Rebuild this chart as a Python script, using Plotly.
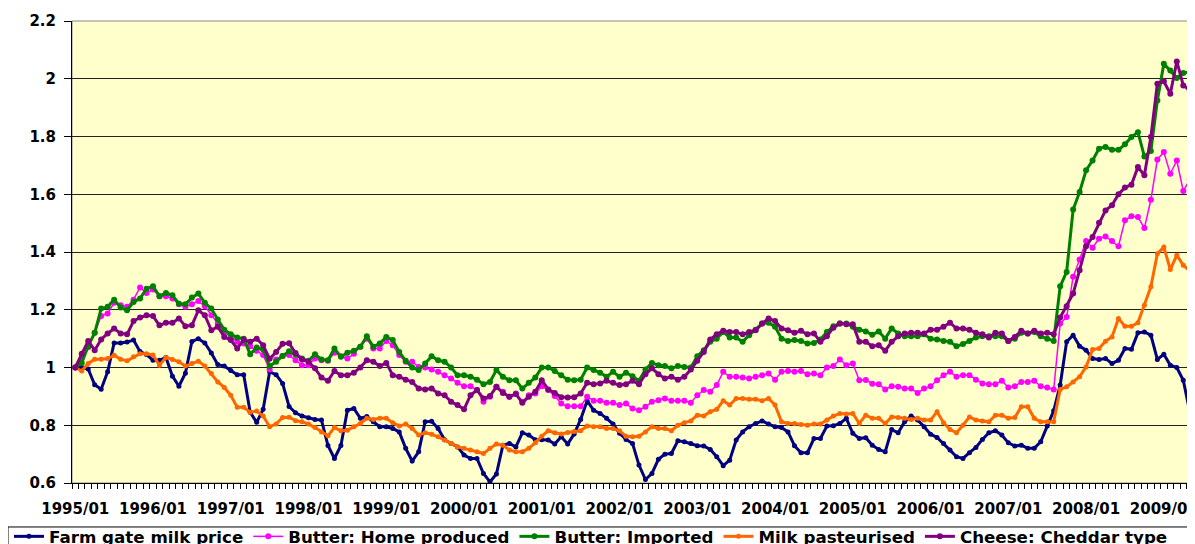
import plotly.graph_objects as go

months = [f"{y}/{m:02d}" for y in range(1995, 2010) for m in range(1, 13)][:173]
tick_labels = ["1995/01", "1996/01", "1997/01", "1998/01", "1999/01", "2000/01", "2001/01",
               "2002/01", "2003/01", "2004/01", "2005/01", "2006/01", "2007/01", "2008/01", "2009/01"]

farm_gate = [
    1.00, 1.00, 0.995, 0.94, 0.925, 0.985, 1.085, 1.085, 1.088, 1.095, 1.055, 1.045,
    1.025, 1.025, 1.035, 0.97, 0.935, 0.98, 1.09, 1.10, 1.085, 1.05, 1.01, 1.005,
    0.99, 0.975, 0.975, 0.845, 0.81, 0.855, 0.985, 0.975, 0.945, 0.865, 0.843, 0.832,
    0.826, 0.82, 0.818, 0.73, 0.685, 0.73, 0.852, 0.858, 0.824, 0.83, 0.812, 0.795,
    0.795, 0.789, 0.777, 0.72, 0.676, 0.708, 0.812, 0.814, 0.789, 0.75, 0.737, 0.725,
    0.697, 0.685, 0.685, 0.633, 0.604, 0.631, 0.731, 0.737, 0.725, 0.774, 0.766, 0.75,
    0.75, 0.749, 0.735, 0.76, 0.735, 0.77, 0.82, 0.885, 0.852, 0.841, 0.824, 0.804,
    0.772, 0.751, 0.737, 0.662, 0.612, 0.633, 0.682, 0.70, 0.702, 0.746, 0.743, 0.737,
    0.729, 0.728, 0.716, 0.691, 0.66, 0.679, 0.749, 0.777, 0.795, 0.806, 0.815, 0.804,
    0.795, 0.792, 0.777, 0.729, 0.705, 0.705, 0.754, 0.754, 0.797, 0.798, 0.806, 0.824,
    0.772, 0.754, 0.757, 0.731, 0.716, 0.708, 0.785, 0.774, 0.812, 0.832, 0.818, 0.795,
    0.769, 0.758, 0.737, 0.714, 0.691, 0.685, 0.705, 0.723, 0.751, 0.774, 0.781, 0.766,
    0.739, 0.728, 0.731, 0.72, 0.72, 0.743, 0.797, 0.85, 0.939, 1.089, 1.112, 1.074,
    1.06, 1.031, 1.028, 1.031, 1.014, 1.025, 1.066, 1.063, 1.12, 1.123, 1.112, 1.028,
    1.046, 1.008, 1.0, 0.956, 0.847]

butter_home = [
    1.0, 1.031, 1.07, 1.12, 1.178, 1.187, 1.224, 1.216, 1.21, 1.235, 1.277, 1.258,
    1.27, 1.247, 1.247, 1.239, 1.219, 1.21, 1.219, 1.23, 1.212, 1.181, 1.152, 1.123,
    1.106, 1.089, 1.083, 1.074, 1.058, 1.043, 0.993, 1.028, 1.04, 1.043, 1.025, 1.008,
    1.008, 1.031, 1.025, 1.023, 1.051, 1.039, 1.031, 1.048, 1.072, 1.10, 1.066, 1.066,
    1.092, 1.077, 1.043, 1.02, 1.02, 1.002, 1.0, 0.993, 0.985, 0.973, 0.962, 0.947,
    0.935, 0.935, 0.922, 0.881, 0.899, 0.933, 0.916, 0.899, 0.91, 0.881, 0.904, 0.91,
    0.935, 0.922, 0.901, 0.875, 0.866, 0.866, 0.866, 0.899, 0.885, 0.885, 0.878, 0.878,
    0.87, 0.875, 0.858, 0.852, 0.864, 0.881, 0.887, 0.893, 0.885, 0.885, 0.885, 0.878,
    0.904, 0.922, 0.916, 0.939, 0.985, 0.968, 0.968, 0.965, 0.962, 0.968, 0.973, 0.979,
    0.958, 0.985, 0.988, 0.985, 0.988, 0.977, 0.979, 0.973, 1.0, 1.005, 1.028, 1.008,
    1.014, 0.956, 0.957, 0.944, 0.942, 0.924, 0.935, 0.933, 0.927, 0.927, 0.912, 0.927,
    0.935, 0.956, 0.973, 0.985, 0.968, 0.973, 0.973, 0.958, 0.945, 0.942, 0.942, 0.954,
    0.931, 0.935, 0.95, 0.95, 0.954, 0.935, 0.931, 0.924, 1.152, 1.175, 1.314, 1.374,
    1.438, 1.415, 1.446, 1.454, 1.438, 1.42, 1.51, 1.524, 1.521, 1.483, 1.581, 1.72,
    1.746, 1.671, 1.717, 1.611, 1.651]

butter_imported = [
    1.0, 1.016, 1.074, 1.12, 1.204, 1.21, 1.235, 1.208, 1.198, 1.227, 1.239, 1.273,
    1.281, 1.247, 1.258, 1.25, 1.221, 1.219, 1.242, 1.256, 1.224, 1.204, 1.166, 1.131,
    1.115, 1.104, 1.10, 1.046, 1.069, 1.062, 1.005, 1.02, 1.04, 1.056, 1.044, 1.031,
    1.023, 1.046, 1.028, 1.025, 1.066, 1.037, 1.051, 1.058, 1.072, 1.108, 1.072, 1.083,
    1.106, 1.095, 1.054, 1.023, 1.0, 0.991, 1.014, 1.039, 1.025, 1.02, 1.0, 0.973,
    0.973, 0.968, 0.958, 0.942, 0.95, 0.991, 0.968, 0.956, 0.956, 0.927, 0.947, 0.965,
    1.0, 1.0, 0.988, 0.973, 0.958, 0.956, 0.958, 1.0, 0.991, 0.982, 0.968, 0.985,
    0.968, 0.982, 0.97, 0.954, 0.993, 1.016, 1.008, 1.005, 0.997, 1.005, 1.002, 1.0,
    1.039, 1.06, 1.089, 1.10, 1.123, 1.104, 1.104, 1.089, 1.112, 1.131, 1.152, 1.155,
    1.141, 1.10, 1.092, 1.095, 1.092, 1.083, 1.085, 1.097, 1.123, 1.143, 1.152, 1.152,
    1.141, 1.131, 1.125, 1.113, 1.125, 1.10, 1.135, 1.118, 1.108, 1.108, 1.108, 1.115,
    1.10, 1.097, 1.092, 1.089, 1.074, 1.081, 1.092, 1.104, 1.108, 1.108, 1.108, 1.108,
    1.092, 1.10, 1.12, 1.118, 1.123, 1.108, 1.10, 1.092, 1.281, 1.331, 1.547, 1.608,
    1.683, 1.717, 1.758, 1.764, 1.754, 1.754, 1.773, 1.798, 1.815, 1.731, 1.75, 1.925,
    2.052, 2.029, 2.003, 2.02, 2.023]

milk_pasteurised = [
    1.0, 0.988, 1.014, 1.029, 1.029, 1.031, 1.042, 1.029, 1.023, 1.037, 1.048, 1.048,
    1.043, 1.008, 1.035, 1.028, 1.02, 1.005, 1.014, 1.022, 1.005, 0.979, 0.95, 0.931,
    0.904, 0.862, 0.862, 0.845, 0.849, 0.832, 0.795, 0.804, 0.827, 0.828, 0.816, 0.812,
    0.804, 0.792, 0.777, 0.764, 0.792, 0.781, 0.783, 0.795, 0.806, 0.824, 0.82, 0.824,
    0.824, 0.809, 0.797, 0.804, 0.789, 0.766, 0.774, 0.769, 0.76, 0.749, 0.737, 0.725,
    0.72, 0.714, 0.708, 0.702, 0.72, 0.735, 0.731, 0.714, 0.708, 0.708, 0.72, 0.739,
    0.762, 0.781, 0.774, 0.77, 0.775, 0.778, 0.781, 0.797, 0.795, 0.795, 0.789, 0.789,
    0.781, 0.762, 0.76, 0.762, 0.777, 0.795, 0.789, 0.789, 0.781, 0.80, 0.809, 0.815,
    0.835, 0.832, 0.847, 0.855, 0.885, 0.87, 0.893, 0.893, 0.89, 0.89, 0.885, 0.893,
    0.87, 0.812, 0.806, 0.806, 0.803, 0.80, 0.804, 0.804, 0.818, 0.832, 0.841, 0.839,
    0.841, 0.806, 0.835, 0.824, 0.824, 0.806, 0.829, 0.827, 0.824, 0.82, 0.824, 0.818,
    0.818, 0.847, 0.809, 0.785, 0.774, 0.80, 0.829, 0.818, 0.815, 0.812, 0.835, 0.835,
    0.824, 0.827, 0.864, 0.864, 0.824, 0.812, 0.812, 0.812, 0.924, 0.933, 0.95, 0.968,
    1.002, 1.062, 1.066, 1.091, 1.106, 1.17, 1.143, 1.143, 1.155, 1.216, 1.28, 1.394,
    1.417, 1.339, 1.389, 1.354, 1.334]

cheese_cheddar = [
    1.0, 1.048, 1.092, 1.06, 1.097, 1.118, 1.135, 1.118, 1.115, 1.161, 1.173, 1.181,
    1.178, 1.146, 1.155, 1.155, 1.17, 1.143, 1.146, 1.198, 1.181, 1.129, 1.141, 1.106,
    1.095, 1.066, 1.097, 1.089, 1.10, 1.077, 1.03, 1.054, 1.082, 1.084, 1.05, 1.028,
    1.02, 0.997, 0.965, 0.954, 0.988, 0.973, 0.973, 0.982, 1.0, 1.025, 1.02, 1.005,
    1.016, 0.973, 0.968, 0.958, 0.95, 0.927, 0.924, 0.927, 0.91, 0.904, 0.881, 0.87,
    0.855, 0.904, 0.922, 0.893, 0.901, 0.933, 0.912, 0.899, 0.908, 0.878, 0.899, 0.916,
    0.956, 0.924, 0.912, 0.897, 0.896, 0.897, 0.91, 0.947, 0.942, 0.945, 0.954, 0.947,
    0.939, 0.942, 0.954, 0.942, 0.977, 0.997, 0.977, 0.962, 0.968, 0.958, 0.968, 0.993,
    1.023, 1.054, 1.097, 1.115, 1.127, 1.123, 1.123, 1.115, 1.123, 1.129, 1.152, 1.17,
    1.161, 1.135, 1.129, 1.12, 1.127, 1.115, 1.118, 1.089, 1.108, 1.138, 1.152, 1.15,
    1.15, 1.089, 1.089, 1.074, 1.077, 1.058, 1.089, 1.108, 1.118, 1.12, 1.12, 1.118,
    1.131, 1.131, 1.141, 1.155, 1.135, 1.135, 1.131, 1.12, 1.115, 1.104, 1.12, 1.118,
    1.092, 1.106, 1.127, 1.118, 1.127, 1.118, 1.12, 1.115, 1.173, 1.212, 1.256, 1.337,
    1.42, 1.452, 1.501, 1.544, 1.562, 1.6, 1.623, 1.633, 1.694, 1.666, 1.798, 1.983,
    1.991, 1.948, 2.06, 1.977, 1.96]

series_names = ["Farm gate milk price", "Butter: Home produced", "Butter: Imported",
                "Milk pasteurised", "Cheese: Cheddar type"]
series_values = [farm_gate, butter_home, butter_imported, milk_pasteurised, cheese_cheddar]
series_colors = ["#000080", "#FF00FF", "#008000", "#FF6600", "#800080"]
line_widths = [3, 1.5, 3, 3, 3]
marker_sizes = [5, 6, 6, 5, 6]

x_idx = list(range(len(months)))
tick_idx = [months.index(t) for t in tick_labels]

fig = go.Figure()
for name, vals, col, lw, ms in zip(series_names, series_values, series_colors, line_widths, marker_sizes):
    fig.add_trace(go.Scatter(
        x=x_idx, y=vals, name=name, mode="lines+markers",
        line=dict(color=col, width=lw),
        marker=dict(color=col, size=ms, symbol="circle"),
        customdata=months, hovertemplate="%{customdata}: %{y}<extra>" + name + "</extra>",
    ))

font_bold = dict(family="DejaVu Sans", size=15, color="black", weight="bold")
legend_font = dict(family="DejaVu Sans", size=16.7, color="black", weight="bold")

# The page body has an 8px default margin, so the figure is sized to end at the window edge.
fig.update_layout(
    width=1187, height=536,
    margin=dict(l=64, r=2, t=13, b=61, autoexpand=False),
    paper_bgcolor="white", plot_bgcolor="#FFFFCC",
    showlegend=True,
    legend=dict(orientation="h", x=-0.0562, y=-0.0779, xanchor="left", yanchor="top",
                borderwidth=0, bgcolor="rgba(0,0,0,0)", font=legend_font,
                itemwidth=30, tracegroupgap=0),
    xaxis=dict(range=[-0.5, len(months) - 0.5], tickmode="array", tickvals=tick_idx, ticktext=tick_labels,
               ticks="outside", ticklen=5, tickcolor="rgba(0,0,0,0)", tickfont=font_bold,
               ticklabeloverflow="allow", ticklabelstandoff=7,
               showline=True, linecolor="black", linewidth=1, showgrid=False, zeroline=False,
               minor=dict(tickmode="linear", tick0=-0.5, dtick=1, ticks="outside", ticklen=5,
                          tickcolor="black", tickwidth=1, showgrid=False)),
    yaxis=dict(range=[0.6, 2.2], tick0=0.6, dtick=0.2, ticks="outside", ticklen=7, tickcolor="black",
               tickfont=font_bold, ticklabelstandoff=5, showline=True, linecolor="black", linewidth=1,
               showgrid=True, gridcolor="#222222", gridwidth=1, zeroline=False),
    shapes=[
        dict(type="rect", xref="paper", yref="paper", x0=0, x1=1, y0=0, y1=1,
             line=dict(color="#888888", width=1), layer="below"),
        # legend frame
        dict(type="rect", xref="paper", yref="paper", x0=-0.0571, x1=0.9955, y0=-0.0952, y1=-0.2,
             line=dict(color="black", width=1), fillcolor="rgba(0,0,0,0)", layer="above"),
    ],
)

fig.write_html("out.html")
